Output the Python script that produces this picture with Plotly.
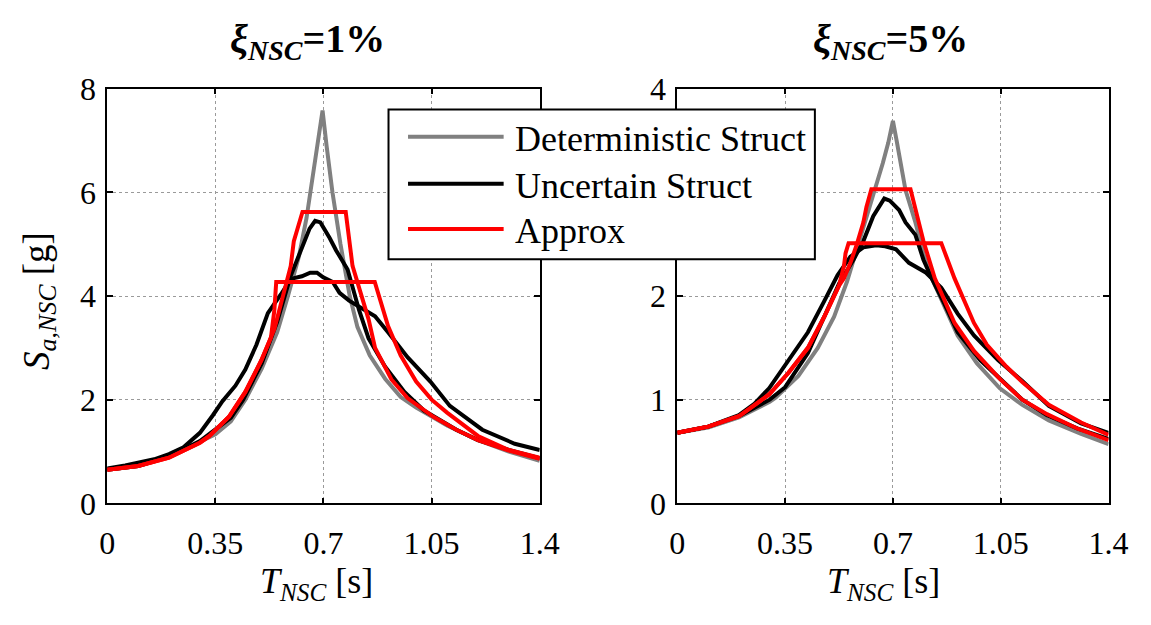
import plotly.graph_objects as go

# ---------------- data ----------------
tick_vals_x = [0, 0.35, 0.7, 1.05, 1.4]
tick_text_x = ["0", "0.35", "0.7", "1.05", "1.4"]
tick_vals_y1 = [0, 2, 4, 6, 8]
tick_vals_y5 = [0, 1, 2, 3, 4]

legend_names = ["Deterministic Struct", "Uncertain Struct", "Approx"]
panel_titles = ["<b><i>ξ<sub>NSC</sub></i>=1%</b>", "<b><i>ξ<sub>NSC</sub></i>=5%</b>"]

# xi = 1 %
det1_T = [0, 0.1, 0.2, 0.3, 0.35, 0.4, 0.447, 0.5, 0.55, 0.585, 0.62, 0.645, 0.662, 0.68, 0.697,
          0.71, 0.729, 0.755, 0.785, 0.81, 0.85, 0.9, 0.95, 1.0, 1.05, 1.1, 1.2, 1.3, 1.4]
det1_Sa = [0.65, 0.72, 0.9, 1.18, 1.33, 1.58, 2.0, 2.6, 3.3, 4.0, 4.75, 5.5, 6.2, 6.85, 7.58,
           6.9, 6.0, 5.0, 4.0, 3.4, 2.85, 2.4, 2.05, 1.85, 1.68, 1.5, 1.22, 1.0, 0.82]

unc1a_T = [0, 0.1, 0.2, 0.3, 0.4, 0.44, 0.5, 0.55, 0.594, 0.625, 0.655, 0.673, 0.69, 0.72,
           0.741, 0.778, 0.793, 0.815, 0.846, 0.899, 0.962, 1.025, 1.13, 1.2, 1.3, 1.4]
unc1a_Sa = [0.65, 0.72, 0.9, 1.2, 1.65, 2.0, 2.7, 3.5, 4.39, 4.88, 5.3, 5.45, 5.42, 5.12,
            4.88, 4.51, 4.21, 3.73, 3.18, 2.64, 2.15, 1.79, 1.42, 1.22, 1.03, 0.87]

unc1b_T = [0, 0.058, 0.152, 0.2, 0.247, 0.3, 0.342, 0.373, 0.415, 0.447, 0.483, 0.505, 0.52,
           0.562, 0.594, 0.63, 0.657, 0.679, 0.699, 0.73, 0.752, 0.783, 0.815, 0.867, 0.909,
           0.972, 1.046, 1.109, 1.214, 1.319, 1.4]
unc1b_Sa = [0.67, 0.73, 0.85, 0.95, 1.08, 1.36, 1.7, 1.97, 2.27, 2.58, 3.06, 3.42, 3.67,
            4.03, 4.33, 4.38, 4.45, 4.45, 4.36, 4.27, 4.06, 3.91, 3.79, 3.61, 3.30,
            2.82, 2.35, 1.88, 1.42, 1.15, 1.03]

apx1a_T = [0, 0.1, 0.2, 0.3, 0.331, 0.394, 0.447, 0.499, 0.541, 0.573, 0.594, 0.604, 0.625,
           0.632, 0.772, 0.794, 0.846, 0.867, 0.92, 0.972, 1.056, 1.13, 1.2, 1.3, 1.4]
apx1a_Sa = [0.65, 0.72, 0.88, 1.17, 1.30, 1.67, 2.15, 2.76, 3.36, 4.09, 4.58, 5.06, 5.5,
            5.62, 5.62, 4.58, 3.55, 3.0, 2.39, 2.03, 1.67, 1.42, 1.22, 1.02, 0.86]

apx1b_T = [0, 0.1, 0.2, 0.3, 0.331, 0.394, 0.447, 0.499, 0.53, 0.541, 0.547, 0.866, 0.909,
           0.95, 1.0, 1.05, 1.1, 1.2, 1.3, 1.4]
apx1b_Sa = [0.65, 0.72, 0.88, 1.17, 1.30, 1.67, 2.15, 2.76, 3.2, 3.73, 4.27, 4.27, 3.42,
            2.85, 2.35, 2.0, 1.75, 1.3, 1.03, 0.88]

# xi = 5 %
det5_T = [0, 0.1, 0.2, 0.3, 0.319, 0.393, 0.456, 0.509, 0.551, 0.588, 0.625, 0.667, 0.685, 0.7,
          0.712, 0.725, 0.741, 0.773, 0.799, 0.826, 0.868, 0.91, 0.973, 1.047, 1.12, 1.206, 1.311, 1.4]
det5_Sa = [0.68, 0.73, 0.83, 0.98, 1.02, 1.23, 1.5, 1.8, 2.14, 2.5, 2.86, 3.28, 3.48, 3.69,
           3.5, 3.3, 3.02, 2.71, 2.41, 2.17, 1.89, 1.62, 1.35, 1.11, 0.95, 0.8, 0.67, 0.57]

unc5a_T = [0, 0.1, 0.2, 0.3, 0.35, 0.424, 0.477, 0.525, 0.572, 0.604, 0.636, 0.672, 0.69,
           0.72, 0.741, 0.773, 0.799, 0.826, 0.868, 0.91, 0.984, 1.068, 1.12, 1.2, 1.3, 1.4]
unc5a_Sa = [0.68, 0.74, 0.84, 1.0, 1.12, 1.45, 1.8, 2.12, 2.35, 2.53, 2.77, 2.94, 2.92,
            2.83, 2.71, 2.59, 2.35, 2.17, 1.92, 1.65, 1.38, 1.14, 1.0, 0.85, 0.72, 0.62]

unc5b_T = [0, 0.1, 0.2, 0.25, 0.298, 0.361, 0.424, 0.477, 0.52, 0.562, 0.604, 0.646, 0.675,
           0.71, 0.752, 0.805, 0.857, 0.91, 0.963, 1.042, 1.12, 1.206, 1.311, 1.4]
unc5b_Sa = [0.68, 0.74, 0.85, 0.96, 1.11, 1.38, 1.65, 1.95, 2.2, 2.38, 2.47, 2.49, 2.48,
            2.45, 2.32, 2.23, 2.08, 1.83, 1.62, 1.38, 1.18, 0.94, 0.77, 0.68]

apx5a_T = [0, 0.1, 0.2, 0.298, 0.361, 0.424, 0.477, 0.525, 0.541, 0.562, 0.583, 0.604, 0.614,
           0.63, 0.757, 0.783, 0.799, 0.836, 0.9, 0.963, 1.047, 1.12, 1.2, 1.3, 1.4]
apx5a_Sa = [0.68, 0.74, 0.84, 1.05, 1.26, 1.5, 1.8, 2.1, 2.17, 2.32, 2.5, 2.71, 2.86,
            3.03, 3.03, 2.74, 2.53, 2.17, 1.74, 1.47, 1.2, 1.0, 0.86, 0.72, 0.61]

apx5b_T = [0, 0.1, 0.2, 0.298, 0.361, 0.424, 0.477, 0.525, 0.541, 0.546, 0.556, 0.857, 0.9,
           0.921, 0.963, 1.005, 1.068, 1.12, 1.206, 1.311, 1.4]
apx5b_Sa = [0.68, 0.74, 0.84, 1.05, 1.26, 1.5, 1.8, 2.1, 2.29, 2.41, 2.51, 2.51, 2.17,
            2.02, 1.74, 1.53, 1.32, 1.17, 0.95, 0.78, 0.66]

# ---------------- style ----------------
W, H = 1151, 625
FONT = "Liberation Serif"
C_DET, C_UNC, C_APX = "#808080", "#000000", "#ff0000"
LW = 4

def px(x):
    return x / W

def py(y):
    return 1 - y / H

fig = go.Figure()

panels = [
    ("x", "y", [(det1_T, det1_Sa, C_DET), (unc1a_T, unc1a_Sa, C_UNC), (unc1b_T, unc1b_Sa, C_UNC),
                (apx1a_T, apx1a_Sa, C_APX), (apx1b_T, apx1b_Sa, C_APX)]),
    ("x2", "y2", [(det5_T, det5_Sa, C_DET), (unc5a_T, unc5a_Sa, C_UNC), (unc5b_T, unc5b_Sa, C_UNC),
                  (apx5a_T, apx5a_Sa, C_APX), (apx5b_T, apx5b_Sa, C_APX)]),
]
for xa, ya, series in panels:
    for xs, ys, col in series:
        fig.add_trace(go.Scatter(x=xs, y=ys, mode="lines", xaxis=xa, yaxis=ya,
                                 line=dict(color=col, width=LW), showlegend=False,
                                 hoverinfo="skip"))

ydom = [py(515), py(75)]
axis_common = dict(
    showline=True, linecolor="black", linewidth=1.6, mirror="allticks",
    ticks="inside", ticklen=6, tickwidth=1.6, tickcolor="black",
    showgrid=True, gridcolor="#9a9a9a", griddash="dot", gridwidth=1,
    zeroline=False, tickfont=dict(family=FONT, size=32, color="black"),
)
fig.update_layout(
    width=W, height=H, paper_bgcolor="white", plot_bgcolor="white",
    margin=dict(l=0, r=0, t=0, b=0), showlegend=False,
    font=dict(family=FONT, color="black"),
    xaxis=dict(domain=[px(101.7), px(545)], range=[0, 1.4], tickvals=tick_vals_x,
               ticktext=tick_text_x, anchor="y", ticklabelstandoff=10, **axis_common),
    yaxis=dict(domain=ydom, range=[0, 8], tickvals=tick_vals_y1, anchor="x",
               ticklabelstandoff=3, **axis_common),
    xaxis2=dict(domain=[px(686), px(1128)], range=[0, 1.4], tickvals=tick_vals_x,
                ticktext=tick_text_x, anchor="y2", ticklabelstandoff=10, **axis_common),
    yaxis2=dict(domain=ydom, range=[0, 4], tickvals=tick_vals_y5, anchor="x2",
                ticklabelstandoff=3, **axis_common),
)

ann = []
# panel titles
for cx, t in [(307, panel_titles[0]), (904, panel_titles[1])]:
    ann.append(dict(x=px(cx), y=py(24), xref="paper", yref="paper", text=t, showarrow=False,
                    xanchor="center", yanchor="middle",
                    font=dict(family=FONT, size=40, color="black")))
# x-axis titles
for cx in [316, 897]:
    ann.append(dict(x=px(cx), y=py(600), xref="paper", yref="paper",
                    text="<i>T</i><sub><i>NSC</i></sub> [s]", showarrow=False,
                    xanchor="center", yanchor="middle",
                    font=dict(family=FONT, size=36, color="black")))
# y-axis title
ann.append(dict(x=px(32), y=py(300), xref="paper", yref="paper",
                text="<i>S</i><sub><i>a,NSC</i></sub> [g]", showarrow=False, textangle=-90,
                xanchor="center", yanchor="middle",
                font=dict(family=FONT, size=37, color="black")))

# legend drawn as box + samples + text
shapes = [dict(type="rect", xref="paper", yref="paper", x0=px(390), x1=px(827),
               y0=py(256), y1=py(97), fillcolor="white",
               line=dict(color="black", width=2), layer="above")]
rows = [126, 176, 224]
for name, col, ry in zip(legend_names, [C_DET, C_UNC, C_APX], rows):
    shapes.append(dict(type="line", xref="paper", yref="paper", x0=px(410), x1=px(508),
                       y0=py(ry), y1=py(ry), line=dict(color=col, width=LW), layer="above"))
    ann.append(dict(x=px(518), y=py(ry + 2), xref="paper", yref="paper", text=name,
                    showarrow=False, xanchor="left", yanchor="middle",
                    font=dict(family=FONT, size=36, color="black")))

fig.update_layout(annotations=ann, shapes=shapes)
fig.write_html("out.html")
